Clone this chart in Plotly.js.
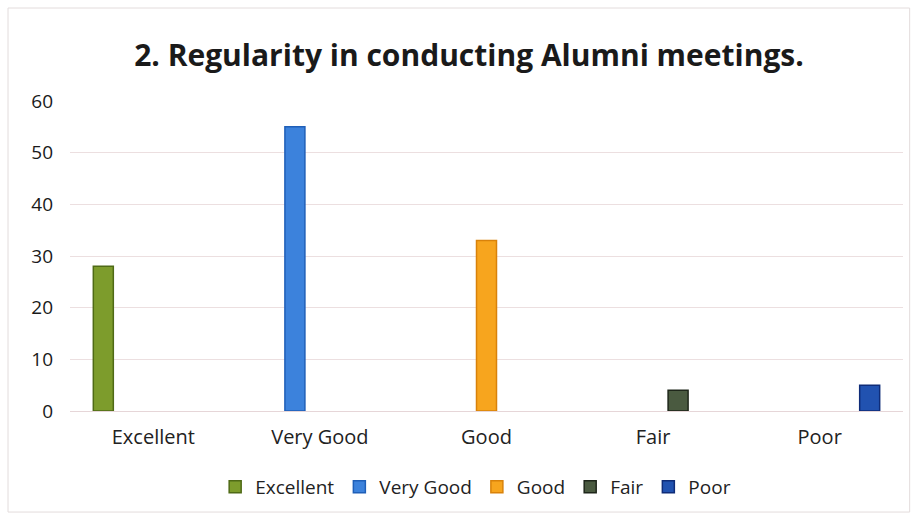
<!DOCTYPE html>
<html>
<head>
<meta charset="utf-8">
<script src="https://cdn.plot.ly/plotly-3.0.1.min.js"></script>
<style>html,body{margin:0;padding:0;background:#fff;}#chart{width:916px;height:518px;}</style>
</head>
<body>
<div id="chart"></div>
<script>
const categories = ["Excellent", "Very Good", "Good", "Fair", "Poor"];
const seriesNames = ["Excellent", "Very Good", "Good", "Fair", "Poor"];
const excellentValues = [28, null, null, null, null];
const veryGoodValues = [null, 55, null, null, null];
const goodValues = [null, null, 33, null, null];
const fairValues = [null, null, null, 4, null];
const poorValues = [null, null, null, null, 5];
const yTicks = [0, 10, 20, 30, 40, 50, 60];

const seriesValues = [excellentValues, veryGoodValues, goodValues, fairValues, poorValues];
const fills = ["#7d9c2c", "#3c82dc", "#f7a51e", "#4a5a40", "#2152b0"];
const borders = ["#4f6a16", "#1f5fb8", "#d9820a", "#1e261a", "#0f2c78"];

const traces = seriesNames.map((name, i) => ({
  type: "bar",
  name: name,
  x: categories,
  y: seriesValues[i],
  marker: {color: fills[i], line: {color: borders[i], width: 1.5}},
  hoverinfo: "x+y+name"
}));

const fontFam = "'Open Sans', Lato, sans-serif";
const layout = {
  width: 916, height: 518,
  paper_bgcolor: "#ffffff", plot_bgcolor: "#ffffff",
  margin: {l: 70, r: 13, t: 101, b: 107},
  barmode: "group", bargap: 0.25, bargroupgap: 0.2,
  title: {text: "<b>2. Regularity in conducting Alumni meetings.</b>",
    font: {family: fontFam, size: 30, color: "#1a1a1a"},
    x: 0.512, xanchor: "center", y: 0.893, yanchor: "middle"},
  font: {family: fontFam, color: "#333"},
  xaxis: {type: "category", showgrid: false, zeroline: false, showline: false,
    ticks: "", tickfont: {family: fontFam, size: 20, color: "#222"}, ticklabelstandoff: 12},
  yaxis: {range: [0, 60], tickvals: yTicks, showgrid: true, gridcolor: "#ecdfe0", gridwidth: 1,
    zeroline: true, zerolinecolor: "#e6d6d8", zerolinewidth: 1, showline: false, ticks: "",
    tickfont: {family: fontFam, size: 19, color: "#1a1a1a"}, ticklabelstandoff: 16, fixedrange: true},
  showlegend: true,
  legend: {orientation: "h", x: 0.487, xanchor: "center", y: -0.245, yanchor: "middle",
    bgcolor: "rgba(0,0,0,0)",
    font: {family: fontFam, size: 19, color: "#222"}, itemwidth: 30, traceorder: "normal"},
  shapes: [{type: "rect", xref: "paper", yref: "paper", x0: -0.0744, x1: 1.008, y0: -0.326, y1: 1.3,
    line: {color: "#e3dcdc", width: 1}, fillcolor: "rgba(0,0,0,0)", layer: "below"}]
};

Plotly.newPlot("chart", traces, layout, {displayModeBar: false, staticPlot: true});
</script>
</body>
</html>
